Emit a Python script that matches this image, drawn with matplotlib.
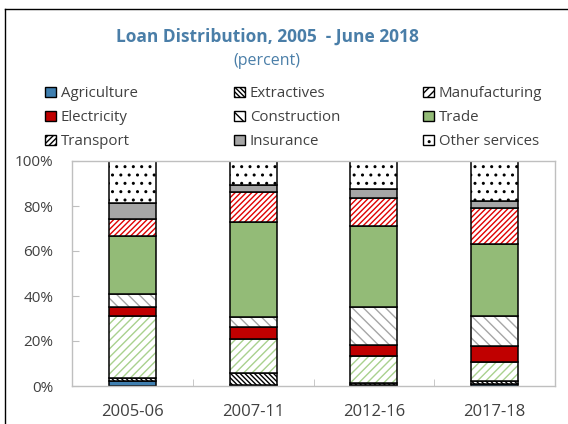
import matplotlib.pyplot as plt
from matplotlib.patches import Patch
from matplotlib.lines import Line2D
import numpy as np

plt.rcParams['font.family'] = ['Open Sans', 'DejaVu Sans']
plt.rcParams['hatch.linewidth'] = 1.0

periods = ['2005-06', '2007-11', '2012-16', '2017-18']
sectors = ['Agriculture', 'Extractives', 'Manufacturing', 'Electricity',
           'Construction', 'Trade', 'Transport', 'Insurance', 'Other services']

# percent of total loans, per sector (rows) and period (columns)
agriculture = [2.4, 0.4, 0.5, 0.7]
extractives = [1.3, 5.2, 1.0, 1.5]
manufacturing = [27.5, 15.4, 11.8, 8.6]
electricity = [4.0, 5.1, 4.9, 7.0]
construction = [5.5, 4.7, 16.7, 13.4]
trade = [26.0, 41.9, 36.3, 31.9]
transport = [7.5, 13.7, 12.3, 16.2]
insurance = [7.3, 2.9, 4.2, 3.1]
other_services = [18.5, 10.7, 12.3, 17.6]

values = [agriculture, extractives, manufacturing, electricity, construction,
          trade, transport, insurance, other_services]

# facecolor, hatch, hatch colour
styles = [
    ('#3F7FB0', None, None),
    ('white', '\\' * 7, 'black'),
    ('white', '////', '#A9D18E'),
    ('#C00000', None, None),
    ('white', '\\\\\\', '#A6A6A6'),
    ('#93BB77', None, None),
    ('white', '//////', '#E00000'),
    ('#A6A6A6', None, None),
    ('white', '..', 'black'),
]

fig = plt.figure(figsize=(5.68, 4.24), dpi=100)
ax = fig.add_axes([72 / 568, 1 - 386 / 424, (555 - 72) / 568, (386 - 161) / 424])

x = np.arange(len(periods))
width = 0.39
bottom = np.zeros(len(periods))
for vals, (fc, hatch, hc) in zip(values, styles):
    vals = np.array(vals)
    if hatch:
        ax.bar(x, vals, width, bottom=bottom, color=fc, hatch=hatch,
               edgecolor=hc, linewidth=0)
    ax.bar(x, vals, width, bottom=bottom, color=fc if not hatch else 'none',
           edgecolor='black', linewidth=1.1)
    bottom += vals

ax.set_xlim(-0.5, 3.5)
ax.set_ylim(0, 100)
ax.set_yticks(range(0, 101, 20))
ax.set_yticklabels([f'{v}%' for v in range(0, 101, 20)])
ax.set_xticks(x)
ax.set_xticklabels(periods)
ax.set_xticks([0.5, 1.5, 2.5], minor=True)
ax.tick_params(axis='x', which='major', length=0, pad=13, labelsize=12,
               labelcolor='#404040')
ax.tick_params(axis='x', which='minor', direction='in', length=5,
               color='#BFBFBF')
ax.tick_params(axis='y', direction='in', length=5, color='#BFBFBF',
               labelsize=11, labelcolor='#404040', pad=13.5)
for s in ax.spines.values():
    s.set_color('#BFBFBF')
    s.set_linewidth(1.0)

fig.text(267 / 568, 1 - 37 / 424, 'Loan Distribution, 2005  - June 2018',
         ha='center', va='center', fontsize=12.5, fontweight='bold',
         color='#4A7EA8')
fig.text(267 / 568, 1 - 61 / 424, '(percent)', ha='center', va='center',
         fontsize=11.5, color='#4A7EA8')

# legend: three columns, filled row by row
col_x = [45, 234, 423]
for c in range(3):
    handles = []
    labels = []
    for r in range(3):
        i = r * 3 + c
        fc, hatch, hc = styles[i]
        handles.append(Patch(facecolor=fc, edgecolor='black', hatch=hatch,
                             linewidth=1.0))
        labels.append(sectors[i])
    fig.legend(handles, labels, loc='upper left',
               bbox_to_anchor=(col_x[c] / 568, 1 - 86 / 424),
               frameon=False, fontsize=10.8, handlelength=0.7,
               handleheight=0.7, handletextpad=0.35, labelspacing=0.6,
               borderpad=0, borderaxespad=0, labelcolor='#404040')

# outer frame (left and top edges)
fig.add_artist(Line2D([4.5 / 568, 4.5 / 568], [0, 1 - 9 / 424],
                      color='black', linewidth=1.0))
fig.add_artist(Line2D([4.5 / 568, 1], [1 - 9 / 424, 1 - 9 / 424],
                      color='black', linewidth=1.0))

fig.savefig('out.png', dpi=100)
